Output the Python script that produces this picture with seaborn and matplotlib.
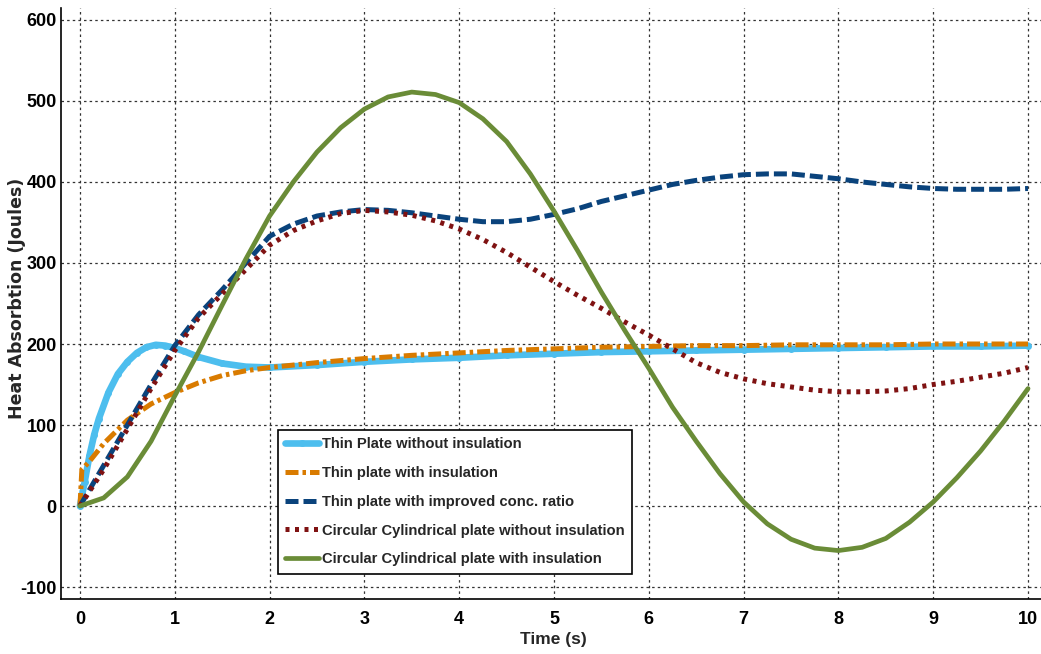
import matplotlib
matplotlib.use("Agg")
import matplotlib.pyplot as plt
from matplotlib import font_manager
import seaborn as sns

# ---------- Data ----------
x_q = [0, 0.25, 0.5, 0.75, 1.0, 1.25, 1.5, 1.75, 2.0, 2.25, 2.5, 2.75, 3.0,
       3.25, 3.5, 3.75, 4.0, 4.25, 4.5, 4.75, 5.0, 5.25, 5.5, 5.75, 6.0,
       6.25, 6.5, 6.75, 7.0, 7.25, 7.5, 7.75, 8.0, 8.25, 8.5, 8.75, 9.0,
       9.25, 9.5, 9.75, 10.0]

thin_no_ins_x = [0, 0.05, 0.1, 0.15, 0.2, 0.3, 0.4, 0.5, 0.6, 0.7, 0.8, 0.9,
                 1.0, 1.1, 1.25, 1.5, 1.75, 2.0, 2.5, 3.0, 3.5, 4.0, 4.5, 5.0,
                 5.5, 6.0, 6.5, 7.0, 7.5, 8.0, 8.5, 9.0, 9.5, 10.0]
thin_no_ins = [0, 30, 62, 88, 108, 140, 163, 178, 189, 196, 199, 198,
               195, 191, 184, 176, 172, 171, 174, 178, 181, 183, 186, 188,
               190, 191, 192, 193, 194, 195, 196, 197, 197, 198]

thin_ins_x = [0, 0.02, 0.1, 0.25, 0.5, 0.75, 1.0, 1.25, 1.5, 1.75, 2.0, 2.5,
              3.0, 3.5, 4.0, 4.5, 5.0, 5.5, 6.0, 6.5, 7.0, 7.5, 8.0, 8.5,
              9.0, 9.5, 10.0]
thin_ins = [0, 45, 55, 77, 106, 126, 140, 152, 161, 167, 171, 177,
            182, 186, 189, 192, 194, 196, 197, 198, 198, 199, 199, 199,
            200, 200, 200]

thin_conc = [0, 50, 100, 150, 198, 236, 267, 300, 333, 348, 358, 363, 366,
             365, 362, 358, 354, 351, 351, 354, 360, 367, 376, 383, 390,
             397, 402, 406, 409, 410, 410, 407, 404, 400, 397, 394, 392,
             391, 391, 391, 392]

cyl_no_ins = [0, 45, 95, 145, 192, 232, 262, 292, 322, 340, 352, 361, 365,
              363, 359, 352, 342, 329, 313, 295, 277, 260, 244, 227, 211,
              194, 177, 165, 157, 151, 147, 143, 141, 141, 142, 145, 150,
              154, 159, 164, 171]

cyl_ins = [0, 10, 36, 80, 136, 190, 248, 305, 358, 400, 437, 467, 490,
           505, 511, 508, 498, 478, 450, 410, 364, 315, 264, 216, 170,
           122, 80, 40, 5, -22, -41, -52, -55, -51, -40, -20, 5,
           35, 68, 105, 145]

labels = ["Thin Plate without insulation",
          "Thin plate with insulation",
          "Thin plate with improved conc. ratio",
          "Circular Cylindrical plate without insulation",
          "Circular Cylindrical plate with insulation"]
colors = ["#4DBEEE", "#D97B00", "#0A437C", "#7F1212", "#6A8C37"]

x_ticks = [0, 1, 2, 3, 4, 5, 6, 7, 8, 9, 10]
y_ticks = [-100, 0, 100, 200, 300, 400, 500, 600]

# ---------- Style ----------
sns.set_theme(style="whitegrid")
names = {f.name for f in font_manager.fontManager.ttflist}
narrow = "Liberation Sans Narrow" if "Liberation Sans Narrow" in names else "Liberation Sans"
plt.rcParams.update({
    "font.family": [narrow, "DejaVu Sans"],
    "font.weight": "bold",
    "axes.unicode_minus": False,
    "axes.edgecolor": "black",
    "axes.linewidth": 1.2,
    "grid.color": "#333333",
    "grid.linestyle": (0, (2, 2.5)),
    "grid.linewidth": 0.9,
    "xtick.direction": "in",
    "ytick.direction": "in",
})

W, H = 1041, 654
AX_L, AX_R, AX_T, AX_B = 61, 1047, 8, 599
fig = plt.figure(figsize=(W / 100, H / 100), dpi=100)
ax = fig.add_axes([AX_L / W, 1 - AX_B / H, (AX_R - AX_L) / W, (AX_B - AX_T) / H])

sns.lineplot(x=thin_no_ins_x, y=thin_no_ins, ax=ax, color=colors[0], linewidth=4.8,
             marker="o", markersize=5, markeredgewidth=0, label=labels[0], zorder=3)
sns.lineplot(x=thin_ins_x, y=thin_ins, ax=ax, color=colors[1], linewidth=3.6,
             linestyle=(0, (2.6, 0.8, 0.7, 0.8)), label=labels[1], zorder=4)
sns.lineplot(x=x_q, y=thin_conc, ax=ax, color=colors[2], linewidth=3.6,
             linestyle=(0, (2.6, 1.0)), label=labels[2], zorder=5)
sns.lineplot(x=x_q, y=cyl_no_ins, ax=ax, color=colors[3], linewidth=3.6,
             linestyle=(0, (0.8, 1.1)), label=labels[3], zorder=6)
sns.lineplot(x=x_q, y=cyl_ins, ax=ax, color=colors[4], linewidth=3.4,
             label=labels[4], zorder=7)

ax.set_xlim(-0.2, 10.2)
ax.set_ylim(-114.8, 614.8)
ax.set_xticks(x_ticks)
ax.set_yticks(y_ticks)
ax.tick_params(axis="both", length=7, width=1.2, color="black",
               labelsize=13, labelcolor="black")
ax.tick_params(axis="x", pad=9)
ax.tick_params(axis="y", pad=3)
ax.grid(True)
ax.spines["top"].set_visible(False)
ax.spines["right"].set_visible(False)

ax_w, ax_h = AX_R - AX_L, AX_B - AX_T
ax.set_xlabel("Time (s)", fontsize=12.5, fontweight="bold")
ax.xaxis.set_label_coords((553 - AX_L) / ax_w, -(632 - AX_B) / ax_h)
ax.set_ylabel("Heat Absorbtion (Joules)", fontsize=12.5, fontweight="bold",
              family="DejaVu Sans")
ax.yaxis.set_label_coords(-(AX_L - 26) / ax_w, (AX_B - 298) / ax_h)

leg = ax.legend(loc="upper left", bbox_to_anchor=(0.22, 0.286), borderaxespad=0,
                fancybox=False, framealpha=1, edgecolor="black",
                prop={"family": [narrow, "DejaVu Sans"], "weight": "bold", "size": 10.6},
                handlelength=2.3, handletextpad=0.2, labelspacing=1.0,
                borderpad=0.5)
leg.get_frame().set_linewidth(1.2)

plt.savefig("out.png", dpi=100)
